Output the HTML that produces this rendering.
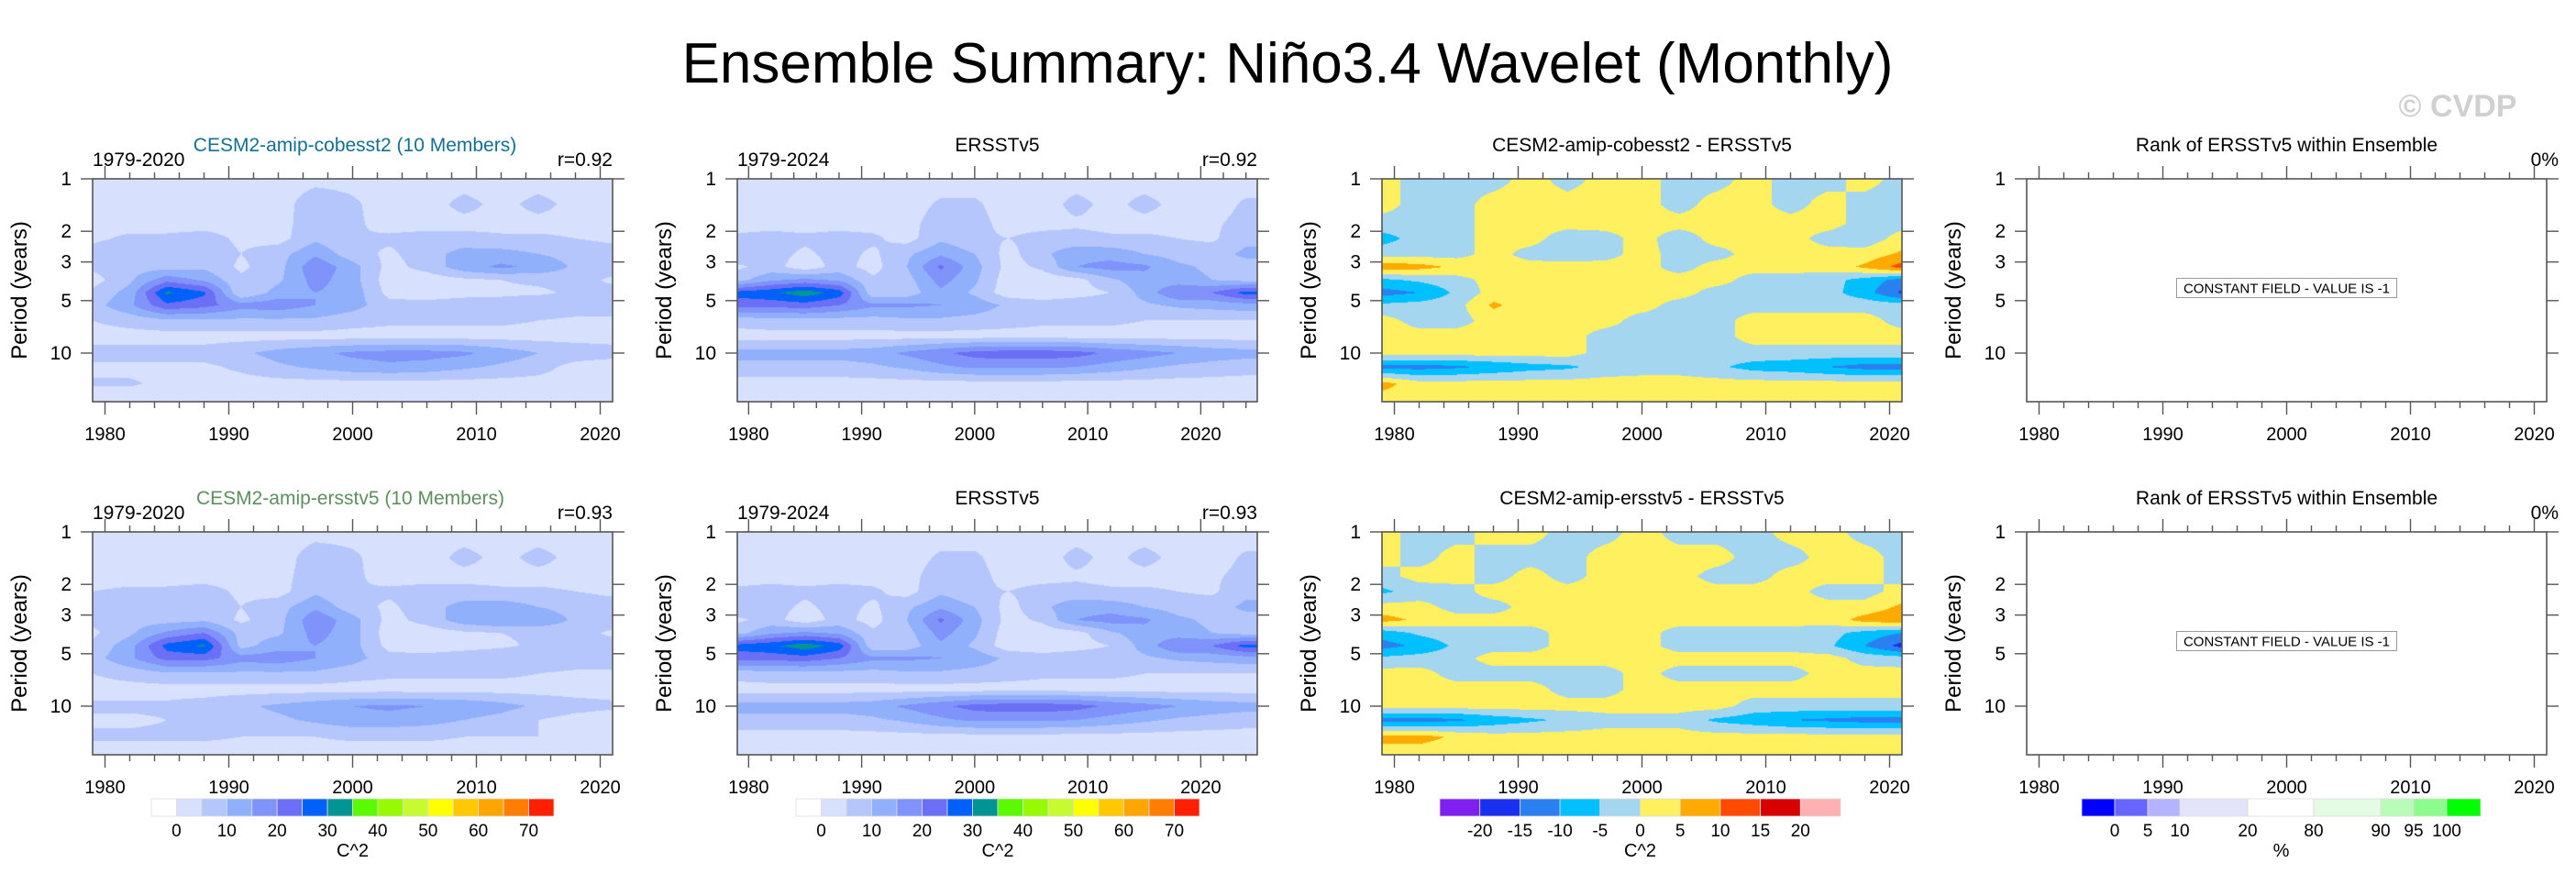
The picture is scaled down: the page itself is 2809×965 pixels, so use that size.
<!DOCTYPE html>
<html><head><meta charset="utf-8">
<style>
html,body{margin:0;padding:0;background:#fff;}
#root{position:relative;width:2809px;height:965px;overflow:hidden;font-family:"Liberation Sans",sans-serif;}
canvas{position:absolute;}
svg{position:absolute;left:0;top:0;}
</style></head>
<body>
<div id="root">
<svg id="svg" width="2809" height="965"></svg>
</div>
<script>
// ---------- data ----------
const PERIODS=[1,1.4,1.8,2.2,2.7,3.2,3.8,4.5,5.3,6.5,8,10,12,15,19];
const YEARS_MODEL=[1979,1982,1985,1988,1991,1994,1997,2000,2003,2006,2009,2012,2015,2018,2021];
const YEARS_OBS=[1979,1982,1985,1988,1991,1994,1997,2000,2003,2006,2009,2012,2015,2018,2021,2024];
const POWER_COBESST2=[
[2,2,2,2,2,2,3,3,2,2,2,2,2,2,2],
[2,2,2,2,2,2,9,6,2,2,7,3,7,3,2],
[3,3,3,3,3,3,8,6,3,3,3,3,3,3,3],
[4,6,6,7,4,3,9,5,6,7,7,6,6,5,4],
[7,9,6,8,5,8,14,7,4,8,12,12,10,8,7],
[6,8,8,9,4,8,19,12,3,7,13,16,14,9,8],
[3,9,18,14,6,9,17,12,2,2,4,5,6,7,4],
[6,12,31,26,5,12,15,13,3,2,3,4,4,6,7],
[8,14,24,22,17,18,15,12,7,7,8,7,9,8,8],
[5,7,9,9,9,9,9,7,6,6,6,6,5,4,4],
[3,3,3,3,3,3,3,3,3,3,3,3,3,3,3],
[7,7,7,7,9,12,14,16,17,17,16,13,10,8,7],
[4,4,4,4,6,9,11,13,14,13,11,9,7,3,2],
[5.5,5.5,4,3,3,3,3,3,3,3,3,3,3,3,3],
[2,2,2,2,2,2,2,2,2,2,2,2,2,2,2]];
const POWER_ERSSTV5=[
[2,2,2,2,2,2,2,2,2,2,2,2,2,2,2,2],
[2,2,2,2,2,2,6,6,2,2,7,3,7,3,2,6],
[3,3,3,3,3,3,8,7,3,3,4,3,3,3,4,7],
[6,7,6,7,6,3,9,6,5,7,7,6,6,5,4,9],
[9,7,4,7,4,9,14,10,3,9,13,13,10,8,8,11],
[4,7,2,7,3,10,21,12,3,6,15,17,16,11,9,8],
[8,14,16,14,6,8,17,11,2,2,3,9,13,12,10,8],
[27,29,33,28,6,7,14,9,2,2,3,5,12,20,20,27],
[22,22,23,20,16,16,15,13,9,7,8,8,9,11,12,13],
[7,8,8,8,8,9,9,8,7,6,6,6,5,5,5,5],
[3,3,3,3,3,3,3,3,3,3,3,3,3,3,3,3],
[12,12,12,12,13,16,19,22,23,23,22,19,17,15,13,12],
[8,8,8,8,9,11,14,16,16,16,15,13,11,9,8,7],
[3,3,3,3,3,3,3,3,3,3,3,3,3,3,3,3],
[2,2,2,2,2,2,2,2,2,2,2,2,2,2,2,2]];
const POWER_AMIPERSST=[
[2,2,2,2,2,2,3,3,2,2,2,2,2,2,2],
[2,2,2,2,2,2,8,6,2,2,7,3,7,3,2],
[3,3,3,3,3,3,8,6,3,3,3,3,3,3,3],
[5,6,6,7,4,3,9,5,6,7,7,6,6,5,4],
[9,7,6,8,5,8,14,7,4,8,12,13,10,8,7],
[6,8,8,9,4,8,19,12,3,7,13,15,14,9,8],
[4,9,16,20,8,9,17,12,2,2,4,5,6,7,4],
[6,13,27,31,8,13,15,12,3,2,3,4,6,7,7],
[8,14,22,22,17,18,15,12,7,7,8,9,9,8,8],
[5,7,9,9,9,9,9,7,6,6,6,6,5,4,4],
[3,3,3,3,3,3,3,3,3,3,3,3,3,3,3],
[6,6,6,7,9,11,13,15,16,15,14,12,9,7,6],
[4,4,5,6,8,9,11,13,13,12,10,8,5,3,2],
[6,6,6,6,5,5,5,6,6,6,5,5,5,5,5],
[2,2,2,2,2,2,2,2,2,2,2,2,2,2,2]];
const DIFF_COBESST2=[
[2,-2,-2,-2,2,-2,2,2,-2,-2,2,-2,-2,2,-2],
[2,-2,-2,2,2,2,2,2,-2,2,2,-2,2,-2,-2],
[-2,-2,-2,2,2,2,2,2,2,2,2,2,2,-2,-2],
[-7,-3,-2,2,2,-3,-2,2,-3,2,2,2,-2,-3,2],
[-2,-2,-2,2,-2,-3,-2,2,-2,-2,2,2,2,2,6],
[8,7,4,2,2,2,2,2,-2,2,2,2,2,6,12],
[-6,-4,-2,2,2,2,2,2,2,2,-2,-2,-3,-7,-12],
[-12,-10,-4,2,2,2,2,2,2,-2,-2,-2,-3,-8,-16],
[-4,-3,-2,6,2,2,2,2,-2,-2,-2,-2,-2,-2,-3],
[2,-2,-2,2,2,2,2,-2,-2,-2,2,2,2,2,-2],
[2,2,2,2,2,2,-2,-2,-2,-2,2,2,2,2,2],
[2,2,2,2,2,2,-2,-2,-2,-2,-2,-2,-2,-2,-2],
[-12,-12,-11,-9,-7,-6,-3,-2,-2,-4,-7,-8,-10,-12,-12],
[7,2,2,2,2,2,2,2,2,2,2,2,2,2,2],
[2,2,2,2,2,2,2,2,2,2,2,2,2,2,2]];
const DIFF_AMIPERSST=[
[2,-2,-2,2,2,-2,-2,2,-2,-2,-2,2,2,-2,-2],
[2,-2,2,-2,-2,-2,2,2,2,2,-2,-2,2,2,-2],
[-2,2,2,-2,2,-2,2,2,2,-2,-2,2,2,2,-2],
[-6,-3,-2,2,2,2,2,2,2,2,2,2,-2,-2,2],
[2,2,-2,-2,2,2,2,2,2,2,2,2,2,2,6],
[7,4,2,2,2,2,2,2,2,2,2,2,2,7,9],
[-8,-4,-2,-2,-2,2,2,2,-2,-2,-2,-2,-3,-7,-10],
[-12,-9,-4,-2,-2,2,2,2,-2,-2,-2,-2,-4,-10,-17],
[-4,-3,-2,2,2,2,2,2,2,2,2,2,2,-2,-3],
[2,2,-2,-2,-2,-2,-2,2,-2,-2,-2,-2,2,2,2],
[2,2,2,2,2,-2,-2,2,2,2,2,2,2,2,2],
[2,2,2,2,2,2,2,2,2,2,-2,-2,-2,-2,-2],
[-12,-12,-11,-8,-6,-4,-2,-2,-2,-6,-8,-10,-11,-12,-12],
[7,7,4,2,2,2,2,2,2,2,2,2,2,2,2],
[2,2,2,2,2,2,2,2,2,2,2,2,2,2,2]];
const POWER_LEVELS=[0,5,10,15,20,25,30,35,40,45,50,55,60,65,70];
const POWER_COLORS=["#ffffff","#d7e0fc","#b5c6fc","#91b0fc","#7f93fa","#6a6ff5","#0060fa","#009595","#5cfa00","#98fa00","#c8fa30","#ffff00","#ffc800","#ffa500","#ff7d00","#ff2000"];
const POWER_TICKS=["0","10","20","30","40","50","60","70"];
const DIFF_LEVELS=[-20,-15,-10,-5,0,5,10,15,20];
const DIFF_COLORS=["#8020f0","#1a30f0","#2a80f0","#00c0ff","#a4d6f0","#fff060","#ffaa00","#ff4a00","#d80000","#ffb0b0"];
const DIFF_TICKS=["-20","-15","-10","-5","0","5","10","15","20"];
const RANK_COLORS=["#0000ff","#6666ff","#b3b3ff","#e3e3fa","#ffffff","#e3fce3","#b8fcb8","#8cfc8c","#00ff00"];
const RANK_TICKS=["0","5","10","20","80","90","95","100"];

// ---------- layout ----------
const NS="http://www.w3.org/2000/svg";
const svg=document.getElementById('svg');
const root=document.getElementById('root');
const COLX=[101,804,1507,2210], ROWY=[195,580], PW=567, PH=243, DEC=190;
function el(tag,attrs,parent){const e=document.createElementNS(NS,tag);for(const k in attrs)e.setAttribute(k,attrs[k]);(parent||svg).appendChild(e);return e;}
function txt(x,y,s,size,anchor,fill,parent,extra){const t=el('text',Object.assign({x:x,y:y,'font-size':size,'text-anchor':anchor||'start',fill:fill||'#000','font-family':'Liberation Sans, sans-serif'},extra||{}),parent);t.textContent=s;return t;}

const title=txt(1404,90,"Ensemble Summary: Niño3.4 Wavelet (Monthly)",62,'middle');


const cp=txt(2680,127,"© CVDP",34,'middle','#d0d0d0',null,{'font-weight':'bold'});



function pickColor(v,levels,colors){let i=0;while(i<levels.length&&v>=levels[i])i++;return colors[i];}
function interp(grid,years,yr,lp){
  const lps=PERIODS.map(p=>Math.log10(p));
  let i=0;while(i<years.length-2&&yr>years[i+1])i++;
  let tx=(yr-years[i])/(years[i+1]-years[i]);tx=Math.max(0,Math.min(1,tx));
  let j=0;while(j<lps.length-2&&lp>lps[j+1])j++;
  let ty=(lp-lps[j])/(lps[j+1]-lps[j]);ty=Math.max(0,Math.min(1,ty));
  const a=grid[j][i],b=grid[j][i+1],c=grid[j+1][i],d=grid[j+1][i+1];
  return (a*(1-tx)+b*tx)*(1-ty)+(c*(1-tx)+d*tx)*ty;
}
function hexRGB(h){return [parseInt(h.substr(1,2),16),parseInt(h.substr(3,2),16),parseInt(h.substr(5,2),16)];}

function panel(opt){
  const x0=COLX[opt.col],y0=ROWY[opt.row];
  const g=el('g',{});
  
  
  const xs=yr=>x0+(yr-opt.x0)/(opt.x1-opt.x0)*PW;
  const ys=p=>y0+Math.log10(p)*DEC;
  if(opt.grid){
    const cv=document.createElement('canvas');cv.width=PW;cv.height=PH;
    cv.style.left=x0+'px';cv.style.top=y0+'px';
    
    
    root.insertBefore(cv,svg);
    const ctx=cv.getContext('2d');const im=ctx.createImageData(PW,PH);
    const cache={};
    for(let py=0;py<PH;py++){const lp=(py+0.5)/DEC;
      for(let px=0;px<PW;px++){const yr=opt.x0+(px+0.5)/PW*(opt.x1-opt.x0);
        const v=interp(opt.grid,opt.years,yr,lp);
        const c=pickColor(v,opt.levels,opt.colors);
        const rgb=cache[c]||(cache[c]=hexRGB(c));
        const k=(py*PW+px)*4;im.data[k]=rgb[0];im.data[k+1]=rgb[1];im.data[k+2]=rgb[2];im.data[k+3]=255;}}
    ctx.putImageData(im,0,0);
  }
  const fr=el('rect',{x:x0,y:y0,width:PW,height:PH,fill:'none',stroke:'#555','stroke-width':1.6},g);
  
  
  for(let yr=1980;yr<=opt.x1;yr+=2){const X=xs(yr);const major=yr%10===0;const L=major?14:7;
    el('line',{x1:X,x2:X,y1:y0,y2:y0-L,stroke:'#555','stroke-width':1.4},g);
    el('line',{x1:X,x2:X,y1:y0+PH,y2:y0+PH+L,stroke:'#555','stroke-width':1.4},g);
    if(major){const t=txt(X,y0+PH+42,String(yr),20,'middle','#000',g);
      
      }}
  [1,2,3,5,10].forEach(p=>{const Y=ys(p);
    el('line',{x1:x0-13,x2:x0,y1:Y,y2:Y,stroke:'#555','stroke-width':1.4},g);
    el('line',{x1:x0+PW,x2:x0+PW+13,y1:Y,y2:Y,stroke:'#555','stroke-width':1.4},g);
    const t=txt(x0-23,Y+7,String(p),21,'end','#000',g);
    
    });
  const yl=txt(0,0,"Period (years)",24,'middle','#000',g,{transform:`translate(${x0-72},${y0+PH/2}) rotate(-90)`});
  
  
  if(opt.left){const t=txt(x0,y0-14,opt.left,21,'start','#000',g);
    
    }
  if(opt.right){const t=txt(opt.rightX||x0+PW,y0-14,opt.right,21,'end','#000',g);
    
    }
  if(opt.center){const t=txt(opt.centerX||x0+PW/2,y0-30,opt.center,21,'middle',opt.centerColor||'#000',g);
    
    }
  if(opt.constant){const cx=x0+PW/2,cy=y0+PH/2-3;
    el('rect',{x:cx-120,y:cy-10,width:240,height:21,fill:'#fff',stroke:'#999','stroke-width':1},g);
    const t=txt(cx,cy+6,"CONSTANT FIELD - VALUE IS -1",15,'middle','#000',g);
    
    }
}

panel({name:'cobesst2-wavelet-panel',row:0,col:0,x0:1979,x1:2021,grid:POWER_COBESST2,years:YEARS_MODEL,levels:POWER_LEVELS,colors:POWER_COLORS,left:'1979-2020',right:'r=0.92',center:'CESM2-amip-cobesst2 (10 Members)',centerX:387,centerColor:'#13708e'});
panel({name:'ersstv5-wavelet-panel',row:0,col:1,x0:1979,x1:2025,grid:POWER_ERSSTV5,years:YEARS_OBS,levels:POWER_LEVELS,colors:POWER_COLORS,left:'1979-2024',right:'r=0.92',center:'ERSSTv5'});
panel({name:'cobesst2-difference-panel',row:0,col:2,x0:1979,x1:2021,grid:DIFF_COBESST2,years:YEARS_MODEL,levels:DIFF_LEVELS,colors:DIFF_COLORS,center:'CESM2-amip-cobesst2 - ERSSTv5'});
panel({name:'rank-panel-top',row:0,col:3,x0:1979,x1:2021,right:'0%',rightX:2790,center:'Rank of ERSSTv5 within Ensemble',constant:true});
panel({name:'amip-ersstv5-wavelet-panel',row:1,col:0,x0:1979,x1:2021,grid:POWER_AMIPERSST,years:YEARS_MODEL,levels:POWER_LEVELS,colors:POWER_COLORS,left:'1979-2020',right:'r=0.93',center:'CESM2-amip-ersstv5 (10 Members)',centerX:382,centerColor:'#5e8f5e'});
panel({name:'ersstv5-wavelet-panel-row2',row:1,col:1,x0:1979,x1:2025,grid:POWER_ERSSTV5,years:YEARS_OBS,levels:POWER_LEVELS,colors:POWER_COLORS,left:'1979-2024',right:'r=0.93',center:'ERSSTv5'});
panel({name:'amip-ersstv5-difference-panel',row:1,col:2,x0:1979,x1:2021,grid:DIFF_AMIPERSST,years:YEARS_MODEL,levels:DIFF_LEVELS,colors:DIFF_COLORS,center:'CESM2-amip-ersstv5 - ERSSTv5'});
panel({name:'rank-panel-bottom',row:1,col:3,x0:1979,x1:2021,right:'0%',rightX:2790,center:'Rank of ERSSTv5 within Ensemble',constant:true});

// ---------- colorbars ----------
function colorbar(name,bounds,colors,ticks,tickIdx,unit){
  const g=el('g',{});
  
  
  for(let i=0;i<colors.length;i++){
    const r=el('rect',{x:bounds[i],y:871,width:bounds[i+1]-bounds[i],height:19,fill:colors[i],stroke:'#ddd','stroke-width':0.8},g);
    
    }
  ticks.forEach((s,k)=>{const t=txt(bounds[tickIdx[k]],912,s,19,'middle','#000',g);
    
    });
  const u=txt((bounds[0]+bounds[bounds.length-1])/2,934,unit,20,'middle','#000',g);
  
  
}
function even(a,b,n){const r=[];for(let i=0;i<=n;i++)r.push(a+(b-a)*i/n);return r;}
colorbar('power-colorbar-1',even(165,604,16),POWER_COLORS,POWER_TICKS,[1,3,5,7,9,11,13,15],'C^2');
colorbar('power-colorbar-2',even(868,1308,16),POWER_COLORS,POWER_TICKS,[1,3,5,7,9,11,13,15],'C^2');
colorbar('difference-colorbar',even(1570,2007,10),DIFF_COLORS,DIFF_TICKS,[1,2,3,4,5,6,7,8,9],'C^2');
colorbar('rank-colorbar',[2270,2306,2342,2377,2451,2523,2596,2632,2668,2705],RANK_COLORS,RANK_TICKS,[1,2,3,4,5,6,7,8],'%');
</script>
</body></html>
